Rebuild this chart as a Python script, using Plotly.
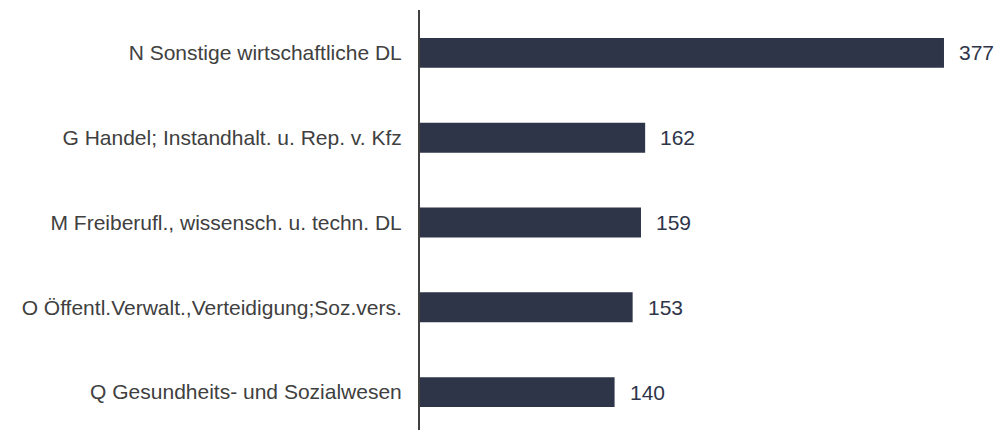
import plotly.graph_objects as go

categories = [
    "N Sonstige wirtschaftliche DL",
    "G Handel; Instandhalt. u. Rep. v. Kfz",
    "M Freiberufl., wissensch. u. techn. DL",
    "O Öffentl.Verwalt.,Verteidigung;Soz.vers.",
    "Q Gesundheits- und Sozialwesen",
]
values = [377, 162, 159, 153, 140]

bar_color = "#2e3549"
label_color = "#404040"
font_family = "Liberation Sans, Arial, sans-serif"

fig = go.Figure(
    go.Bar(
        x=values,
        y=categories,
        orientation="h",
        marker=dict(color=bar_color, line=dict(width=0)),
        width=0.353,
        hoverinfo="skip",
    )
)

for c, v in zip(categories, values):
    fig.add_annotation(
        x=v, y=c, text=str(v), showarrow=False, xanchor="left", xshift=13,
        font=dict(family=font_family, size=21, color="#2e3549"),
    )

fig.update_layout(
    width=1000, height=430,
    margin=dict(l=420, r=0, t=10, b=0),
    paper_bgcolor="white", plot_bgcolor="white",
    showlegend=False,
    font=dict(family=font_family, size=21, color=label_color),
    xaxis=dict(range=[0, 417.3], visible=False, showgrid=False, zeroline=False),
    yaxis=dict(
        type="category",
        categoryorder="array",
        categoryarray=categories,
        range=[4.447, -0.506],
        showline=True, linecolor="#404040", linewidth=2,
        showgrid=False, zeroline=False,
        ticks="", ticklabelstandoff=12,
        tickfont=dict(family=font_family, size=21, color=label_color),
    ),
)

fig.write_html("out.html")
